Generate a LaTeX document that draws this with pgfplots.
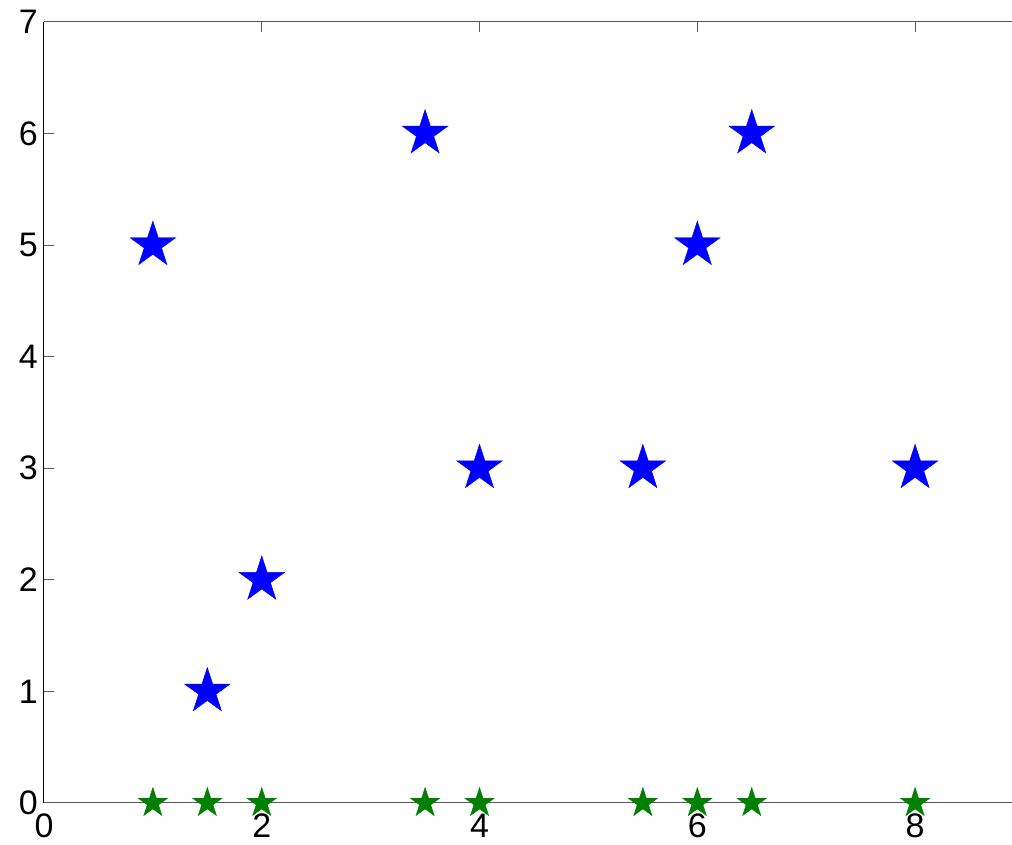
\documentclass[border=0pt]{standalone}
\usepackage{fontspec}
\setmainfont{Liberation Sans}
\usepackage{pgfplots}
\usepackage{pgfplotstable}
\pgfplotsset{compat=1.18}

% filled five-pointed star
\pgfdeclareplotmark{fivestar}{%
  \pgfpathmoveto{\pgfpointpolar{90}{\pgfplotmarksize}}%
  \pgfpathlineto{\pgfpointpolar{126}{0.382\pgfplotmarksize}}%
  \pgfpathlineto{\pgfpointpolar{162}{\pgfplotmarksize}}%
  \pgfpathlineto{\pgfpointpolar{198}{0.382\pgfplotmarksize}}%
  \pgfpathlineto{\pgfpointpolar{234}{\pgfplotmarksize}}%
  \pgfpathlineto{\pgfpointpolar{270}{0.382\pgfplotmarksize}}%
  \pgfpathlineto{\pgfpointpolar{306}{\pgfplotmarksize}}%
  \pgfpathlineto{\pgfpointpolar{342}{0.382\pgfplotmarksize}}%
  \pgfpathlineto{\pgfpointpolar{18}{\pgfplotmarksize}}%
  \pgfpathlineto{\pgfpointpolar{54}{0.382\pgfplotmarksize}}%
  \pgfpathclose
  \pgfusepathqfillstroke}

\definecolor{mblue}{rgb}{0,0,1}
\definecolor{mgreen}{rgb}{0,0.5,0}

\pgfplotstableread{
x   y
1   5
1.5 1
2   2
3.5 6
4   3
5.5 3
6   5
6.5 6
8   3
}\values

\pgfplotstableread{
x   y
1   0
1.5 0
2   0
3.5 0
4   0
5.5 0
6   0
6.5 0
8   0
}\baseline

\begin{document}
\begin{tikzpicture}
\begin{axis}[
  scale only axis,
  width=968pt, height=781pt,
  xmin=0, xmax=8.89, ymin=0, ymax=7,
  axis x line*=box, axis y line*=left,
  x axis line style={black!65, line width=1pt},
  y axis line style={black, line width=1pt},
  xtick={0,2,4,6,8}, ytick={0,1,...,7},
  tick align=inside, major tick length=10pt,
  every tick/.style={black!65, line width=1pt},
  tick label style={font=\fontsize{34}{40}\selectfont},
  /pgf/number format/assume math mode=true,
  xticklabel style={anchor=north, inner sep=0pt, yshift=-11pt},
  yticklabel style={anchor=east, inner sep=0pt, xshift=-6pt},
  clip=false, axis on top,
]
\addplot[only marks, mark=fivestar, mark size=24pt, color=mblue,
  mark options={line width=0.4pt, fill=mblue}] table[x=x, y=y] {\values};
\addplot[only marks, mark=fivestar, mark size=15.5pt, color=mgreen,
  mark options={line width=0.4pt, fill=mgreen}] table[x=x, y=y] {\baseline};
\end{axis}
\pgfresetboundingbox
\path (-44pt,-42pt) rectangle (968pt,803pt);
\end{tikzpicture}
\end{document}
